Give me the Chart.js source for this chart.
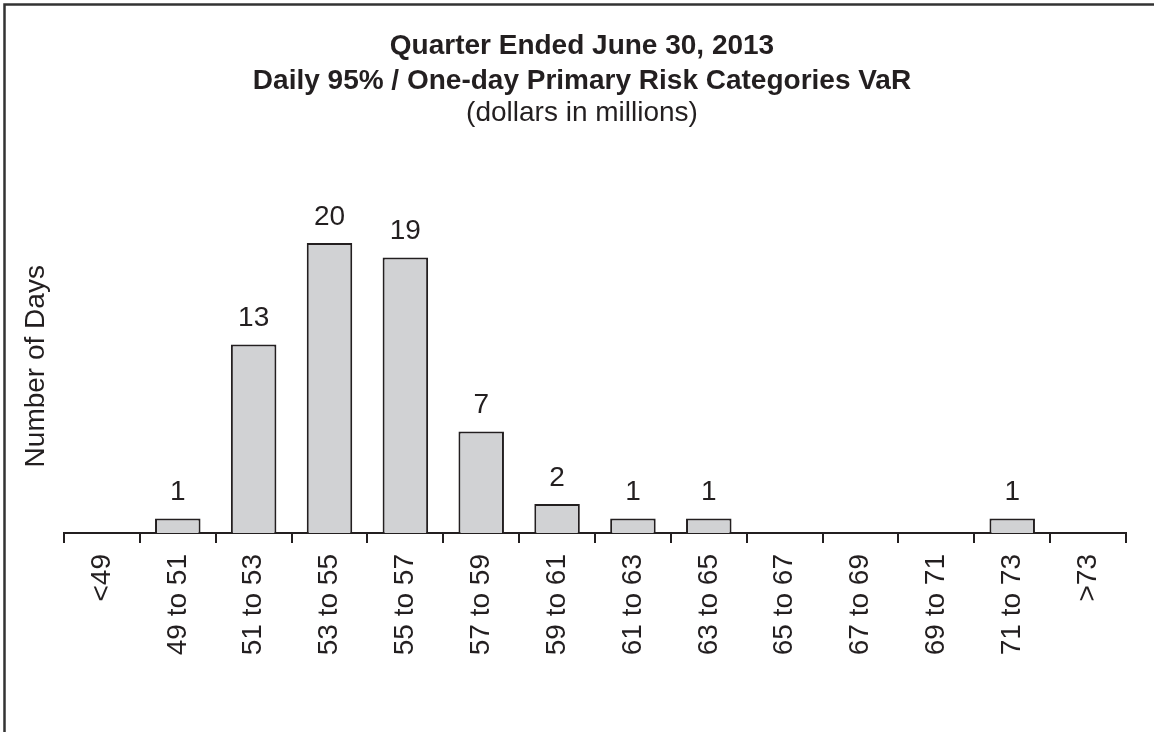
<!DOCTYPE html>
<html>
<head>
<meta charset="utf-8">
<script src="https://cdn.jsdelivr.net/npm/chart.js@4/dist/chart.umd.min.js"></script>
<style>
  html, body { margin: 0; padding: 0; background: #fff; }
  #wrap { width: 1154px; height: 732px; position: relative; }
</style>
</head>
<body>
<div id="wrap"><canvas id="var-chart"></canvas></div>
<script>
// VaR histogram data
const categories = ['<49', '49 to 51', '51 to 53', '53 to 55', '55 to 57', '57 to 59', '59 to 61',
                    '61 to 63', '63 to 65', '65 to 67', '67 to 69', '69 to 71', '71 to 73', '>73'];
const days = [0, 1, 13, 20, 19, 7, 2, 1, 1, 0, 0, 0, 1, 0];
const titleLines = ['Quarter Ended June 30, 2013', 'Daily 95% / One-day Primary Risk Categories VaR'];
const subtitleText = '(dollars in millions)';
const yTitle = 'Number of Days';

const ink = '#231f20';
Chart.defaults.font.family = "'Liberation Sans', Arial, sans-serif";
Chart.defaults.color = ink;

// value labels above bars + outer frame
const barValues = {
    id: 'barValues',
    afterDatasetsDraw(chart) {
        const c = chart.ctx;
        const meta = chart.getDatasetMeta(0);
        c.save();
        c.font = "28px 'Liberation Sans', Arial, sans-serif";
        c.fillStyle = ink;
        c.textAlign = 'center';
        c.textBaseline = 'alphabetic';
        meta.data.forEach((bar, i) => {
            if (!days[i]) return;
            c.fillText(String(days[i]), bar.x, bar.y - 18.5);
        });
        c.restore();
    },
    afterDraw(chart) {
        const c = chart.ctx;
        c.save();
        c.strokeStyle = '#333';
        c.lineWidth = 2.5;
        c.beginPath();
        c.moveTo(4.5, chart.height);
        c.lineTo(4.5, 4.5);
        c.lineTo(chart.width, 4.5);
        c.stroke();
        c.restore();
    }
};

new Chart(document.getElementById('var-chart').getContext('2d'), {
    type: 'bar',
    data: {
        labels: categories,
        datasets: [{
            data: days,
            backgroundColor: '#d1d2d4',
            borderColor: ink,
            borderWidth: 2,
            barPercentage: 0.6,
            categoryPercentage: 1
        }]
    },
    options: {
        responsive: true,
        maintainAspectRatio: false,
        animation: false,
        layout: { padding: { left: 38, right: 28, top: 0, bottom: 0 } },
        plugins: {
            legend: { display: false },
            tooltip: { enabled: false },
            title: {
                display: true,
                text: titleLines,
                color: ink,
                font: { size: 28, weight: 'bold', lineHeight: 1.25 },
                padding: { top: 29, bottom: 0 }
            },
            subtitle: {
                display: true,
                text: subtitleText,
                color: ink,
                font: { size: 28, weight: 'normal', lineHeight: 1.0 },
                padding: { top: 0, bottom: 72.5 }
            }
        },
        scales: {
            x: {
                grid: {
                    drawOnChartArea: false,
                    drawTicks: true,
                    tickLength: 10,
                    color: ink,
                    lineWidth: 2
                },
                border: { display: true, color: ink, width: 2 },
                ticks: {
                    color: ink,
                    font: { size: 28 },
                    minRotation: 90,
                    maxRotation: 90,
                    padding: 11,
                    autoSkip: false
                },
                afterFit(scale) { scale.height = 199; }
            },
            y: {
                min: 0,
                max: 23,
                grid: { display: false },
                border: { display: false },
                ticks: { display: false },
                title: {
                    display: true,
                    text: yTitle,
                    color: ink,
                    font: { size: 28, lineHeight: 0.6 },
                    padding: { top: -10, bottom: 0 }
                },
                afterFit(scale) { scale.width = 26; }
            }
        }
    },
    plugins: [barValues]
});
</script>
</body>
</html>
